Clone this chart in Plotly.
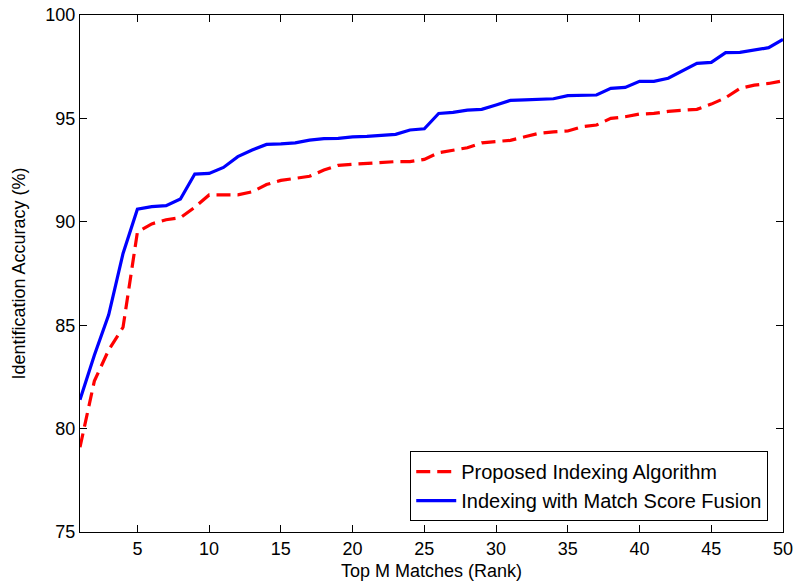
import plotly.graph_objects as go

ranks = list(range(1, 51))

proposed = [79.1, 82.3, 83.8, 84.9, 89.5, 89.9, 90.1, 90.2, 90.7, 91.3,
            91.3, 91.3, 91.45, 91.8, 92.0, 92.1, 92.2, 92.5, 92.73, 92.78,
            92.83, 92.86, 92.91, 92.91, 93.02, 93.34, 93.47, 93.58, 93.82, 93.89,
            93.94, 94.11, 94.28, 94.35, 94.39, 94.6, 94.68, 95.0, 95.08, 95.21,
            95.24, 95.34, 95.39, 95.44, 95.69, 96.0, 96.45, 96.61, 96.69, 96.82]

fusion = [81.4, 83.55, 85.5, 88.47, 90.61, 90.73, 90.78, 91.1, 92.31, 92.34,
          92.63, 93.15, 93.47, 93.74, 93.77, 93.82, 93.95, 94.02, 94.03, 94.11,
          94.13, 94.18, 94.23, 94.44, 94.5, 95.24, 95.29, 95.4, 95.44, 95.65,
          95.87, 95.9, 95.92, 95.95, 96.1, 96.13, 96.13, 96.45, 96.5, 96.79,
          96.79, 96.94, 97.29, 97.66, 97.71, 98.18, 98.19, 98.31, 98.42, 98.82]

x_ticks = [5, 10, 15, 20, 25, 30, 35, 40, 45, 50]
y_ticks = [75, 80, 85, 90, 95, 100]

font = "Liberation Sans, Arial, Helvetica, sans-serif"

fig = go.Figure()
fig.add_trace(go.Scatter(x=ranks, y=proposed, mode="lines",
                         name="Proposed Indexing Algorithm",
                         line=dict(color="#FF0000", width=3.2, dash="14px,7px")))
fig.add_trace(go.Scatter(x=ranks, y=fusion, mode="lines",
                         name="Indexing with Match Score Fusion",
                         line=dict(color="#0000FF", width=3.2)))

axis_common = dict(showgrid=False, zeroline=False, showline=True, linecolor="black",
                   linewidth=1, mirror="ticks", ticks="inside", ticklen=7,
                   tickcolor="black", tickwidth=1, automargin=False,
                   ticklabeloverflow="allow",
                   tickfont=dict(family=font, size=18, color="black"))

fig.update_xaxes(range=[1, 50], tickvals=x_ticks, ticktext=[str(v) for v in x_ticks],
                 title=dict(text="Top M Matches (Rank)", standoff=6,
                            font=dict(family=font, size=18, color="black")),
                 **axis_common)
fig.update_yaxes(range=[75, 100], tickvals=y_ticks, ticktext=[str(v) for v in y_ticks],
                 title=dict(text="Identification Accuracy (%)", standoff=15,
                            font=dict(family=font, size=18, color="black")),
                 **axis_common)

fig.update_layout(
    width=794, height=584,
    margin=dict(l=80, r=11, t=15, b=52),
    paper_bgcolor="white", plot_bgcolor="white",
    font=dict(family=font, size=18, color="black"),
    legend=dict(x=0.979, y=0.021, xanchor="right", yanchor="bottom",
                bgcolor="white", bordercolor="black", borderwidth=1,
                font=dict(family=font, size=20, color="black"),
                tracegroupgap=0, itemwidth=40),
)

fig.write_html("out.html", config={"displayModeBar": False},
               post_script="document.body.style.margin='0';document.body.style.overflow='hidden';")
